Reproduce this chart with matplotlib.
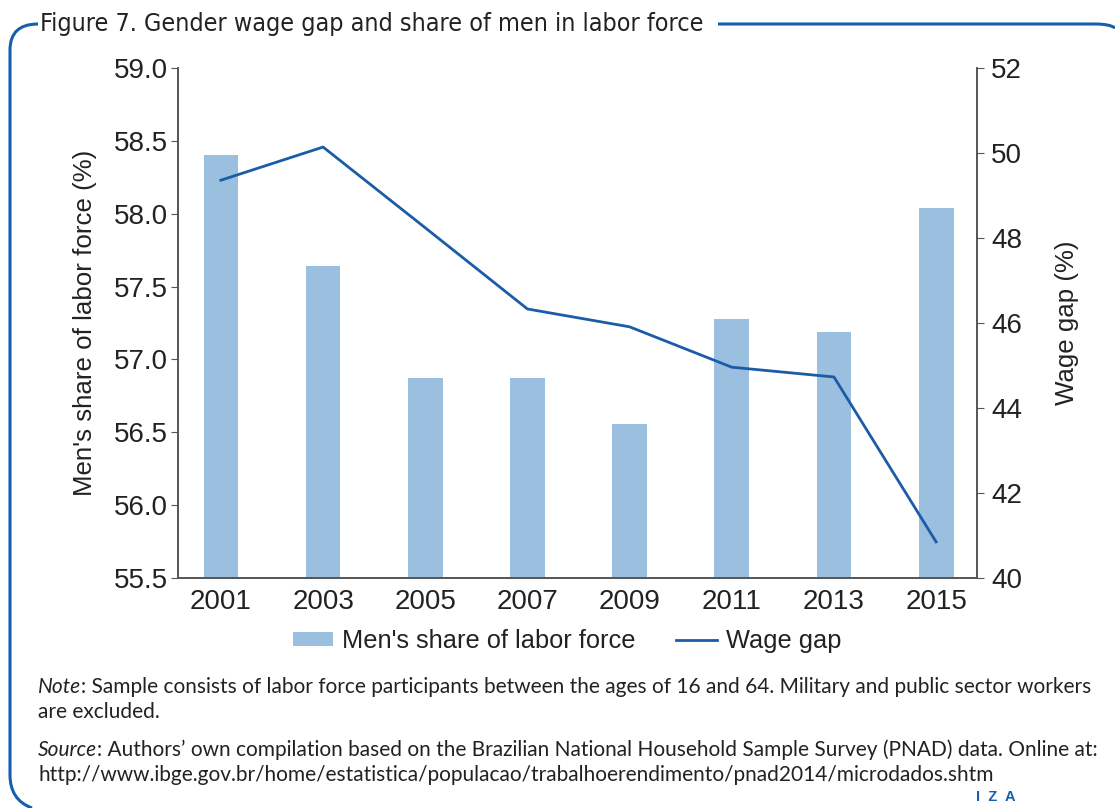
import matplotlib
matplotlib.use("Agg")
import matplotlib.pyplot as plt
from matplotlib.path import Path
from matplotlib.patches import PathPatch

years = ['2001', '2003', '2005', '2007', '2009', '2011', '2013', '2015']
men_share = [58.40, 57.64, 56.87, 56.87, 56.56, 57.28, 57.19, 58.04]
wage_gap = [49.36, 50.14, 48.24, 46.33, 45.91, 44.96, 44.73, 40.85]
left_ticks = [55.5, 56.0, 56.5, 57.0, 57.5, 58.0, 58.5, 59.0]
right_ticks = [40, 42, 44, 46, 48, 50, 52]

bar_color = '#9bbfdf'
line_color = '#1a5ca8'
frame_color = '#1560ad'
text_color = '#222222'
axis_color = '#555555'

plt.rcParams['font.family'] = ['Liberation Sans', 'DejaVu Sans']

W, H = 1115, 808
fig = plt.figure(figsize=(W / 100, H / 100), dpi=100)


def fx(px):
    return px / W


def fy(py):
    return 1 - py / H


ax = fig.add_axes([fx(178), fy(578), fx(977) - fx(178), fy(68) - fy(578)])
x = list(range(len(years)))
bars = ax.bar(x, men_share, width=0.34, color=bar_color, label="Men's share of labor force")
ax.set_ylim(55.5, 59.0)
ax.set_xlim(-0.42, 7.4)
ax.set_yticks(left_ticks)
ax.set_yticklabels([f'{t:.1f}' for t in left_ticks])
ax.set_xticks(x)
ax.set_xticklabels(years)
ax.tick_params(axis='y', labelsize=20, length=5, color=axis_color, labelcolor=text_color, pad=2.5)
ax.tick_params(axis='x', labelsize=20, length=0, labelcolor=text_color, pad=8)
ax.set_ylabel("Men's share of labor force (%)", fontsize=18.6, color=text_color, labelpad=12)
ax.spines['top'].set_visible(False)
for s in ['left', 'right', 'bottom']:
    ax.spines[s].set_color(axis_color)
    ax.spines[s].set_linewidth(1.2)

ax2 = ax.twinx()
ln, = ax2.plot(x, wage_gap, color=line_color, linewidth=2, label='Wage gap')
ax2.set_ylim(40, 52)
ax2.set_yticks(right_ticks)
ax2.tick_params(axis='y', labelsize=20, length=5, color=axis_color, labelcolor=text_color, pad=5)
ax2.set_ylabel('Wage gap (%)', fontsize=18.6, color=text_color, labelpad=24)
ax2.spines['top'].set_visible(False)
for s in ['left', 'right', 'bottom']:
    ax2.spines[s].set_color(axis_color)
    ax2.spines[s].set_linewidth(1.2)

fig.legend([bars, ln], ["Men's share of labor force", 'Wage gap'],
           loc='center', bbox_to_anchor=(fx(567), fy(641)), ncol=2, frameon=False,
           fontsize=18.3, handlelength=1.6, handleheight=0.45, columnspacing=1.6,
           handletextpad=0.35, labelcolor=text_color)

# frame
verts = [(fx(32), fy(808)), (fx(10), fy(800)), (fx(10), fy(775)),
         (fx(10), fy(50)), (fx(10), fy(24)), (fx(38), fy(24))]
codes = [Path.MOVETO, Path.CURVE3, Path.CURVE3, Path.LINETO, Path.CURVE3, Path.CURVE3]
fig.add_artist(PathPatch(Path(verts, codes), fill=False, edgecolor=frame_color,
                         linewidth=2.2, transform=fig.transFigure))
verts2 = [(fx(718), fy(24)), (fx(1095), fy(24)), (fx(1110), fy(24)), (fx(1115), fy(28))]
codes2 = [Path.MOVETO, Path.LINETO, Path.CURVE3, Path.CURVE3]
fig.add_artist(PathPatch(Path(verts2, codes2), fill=False, edgecolor=frame_color,
                         linewidth=2.2, transform=fig.transFigure))

fig.text(fx(40), fy(24), 'Figure 7. Gender wage gap and share of men in labor force',
         fontsize=18, color=text_color, va='center', ha='left',
         family=['DejaVu Sans'], fontstretch='condensed')

# note and source, with italic lead word
note_font = ['Lato', 'DejaVu Sans']
note_size = 15
renderer = fig.canvas.get_renderer()


def lead_line(py, lead, rest):
    t = fig.text(fx(38), fy(py), lead, fontsize=note_size, color=text_color, va='center',
                 ha='left', family=note_font, style='italic')
    w = t.get_window_extent(renderer=renderer).width
    fig.text(fx(38 + w), fy(py), rest, fontsize=note_size, color=text_color, va='center',
             ha='left', family=note_font)


lead_line(687, 'Note', ': Sample consists of labor force participants between the ages of 16 and 64. Military and public sector workers')
fig.text(fx(38), fy(712), 'are excluded.', fontsize=note_size, color=text_color, va='center', ha='left', family=note_font)
lead_line(750, 'Source', ': Authors\u2019 own compilation based on the Brazilian National Household Sample Survey (PNAD) data. Online at:')
fig.text(fx(38), fy(775), 'http://www.ibge.gov.br/home/estatistica/populacao/trabalhoerendimento/pnad2014/microdados.shtm',
         fontsize=note_size, color=text_color, va='center', ha='left', family=note_font)
fig.text(fx(996), fy(797), 'I  Z  A', fontsize=10.5, fontweight='bold', color=frame_color,
         va='center', ha='center')

fig.savefig('out.png', dpi=100)
